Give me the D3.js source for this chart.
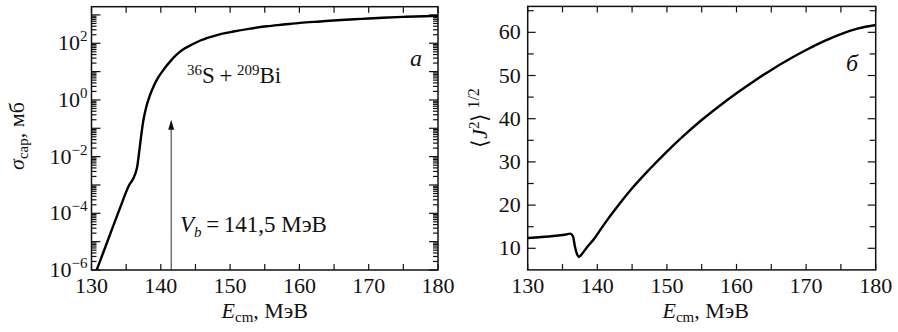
<!DOCTYPE html>
<html>
<head>
<meta charset="utf-8">
<script src="https://cdn.jsdelivr.net/npm/d3@7"></script>
</head>
<body style="margin:0;background:#fff">
<svg id="fig" width="898" height="332"></svg>
<script>
// Capture cross section σ_cap (mb) versus centre-of-mass energy, 36S + 209Bi
const energyCap = [130.75, 132, 134, 135.4, 136.3, 136.6, 136.9, 137.2, 137.5, 137.9, 138.4,
  139.0, 139.7, 140.5, 141.3, 142.2, 143.2, 144.5, 145.7, 148.1, 150.5, 152.9, 155.3,
  157.7, 160.1, 163, 166, 169, 172, 175, 178, 180];
const sigmaCap = [1e-6, 6.5e-6, 1.3e-4, 9.5e-4, 2.4e-3, 4.5e-3, 1.6e-2, 6.3e-2, 0.2, 0.56, 1.4,
  3.2, 6.6, 12.6, 22, 38, 60, 90, 125, 195, 260, 330, 398,
  457, 525, 589, 661, 724, 794, 851, 902, 923];

// Mean angular momentum <J^2>^(1/2) versus energy
const energyJ = [130, 132, 134, 135.5, 136.1, 136.5, 136.8, 137.1, 137.35, 137.7, 138.5,
  139.5, 141, 143, 145, 147.5, 150, 152.5, 155, 157.5, 160, 162.5, 165, 167.5, 170,
  172.5, 175, 177.5, 180];
const meanJ = [12.4, 12.6, 12.9, 13.2, 13.4, 12.8, 10.3, 8.6, 8.0, 8.5, 10.2,
  12.1, 15.6, 19.9, 23.9, 28.3, 32.4, 36.2, 39.7, 42.9, 45.9, 48.7, 51.3, 53.7, 55.9,
  57.9, 59.6, 60.9, 61.7];

const energyTicks = [130, 140, 150, 160, 170, 180];
const sigmaTickExp = [-6, -4, -2, 0, 2];
const jTicks = [10, 20, 30, 40, 50, 60];
const barrierEnergy = 141.5;   // V_b, MeV
const arrowTipSigma = 0.2;

const svg = d3.select("#fig");
const FS = 22, FS_SUB = 15;
const INK = "#111";
const FACE = "Liberation Serif";

// text element with the serif face set directly on it
function addText(sel) {
  return sel.append("text").attr("font-family", FACE).attr("fill", INK);
}

function energyAxisTicks(g, x, y0, y1) {
  const minor = d3.range(130, 180.01, 5);
  g.selectAll(null).data(minor).join("line")
    .attr("x1", d => x(d)).attr("x2", d => x(d))
    .attr("y1", y0).attr("y2", y0 - 6)
    .attr("stroke", INK).attr("stroke-width", 1.2);
  g.selectAll(null).data(minor).join("line")
    .attr("x1", d => x(d)).attr("x2", d => x(d))
    .attr("y1", y1).attr("y2", y1 + 6)
    .attr("stroke", INK).attr("stroke-width", 1.2);
  g.selectAll(null).data(energyTicks).join("text")
    .attr("font-family", FACE).attr("fill", INK)
    .attr("x", d => x(d)).attr("y", y0 + 23)
    .attr("text-anchor", "middle").attr("font-size", FS)
    .text(d => d);
}

function energyTitle(g, cx, y) {
  const t = addText(g).attr("x", cx).attr("y", y)
    .attr("text-anchor", "middle").attr("font-size", FS);
  t.append("tspan").attr("font-style", "italic").text("E");
  t.append("tspan").attr("font-size", FS_SUB).attr("dy", 4).text("cm");
  t.append("tspan").attr("dy", -4).text(", МэВ");
}

// ---------- Panel a: capture cross section ----------
{
  const x = d3.scaleLinear().domain([130, 180]).range([91.5, 438]);
  const y = d3.scaleLog().domain([1e-6, Math.pow(10, 3.29)]).range([270, 6.7]);
  const g = svg.append("g");
  const [x0, x1] = x.range();
  const [yb, yt] = y.range();

  const clip = g.append("clipPath").attr("id", "clipA");
  clip.append("rect").attr("x", x0).attr("y", yt).attr("width", x1 - x0).attr("height", yb - yt);

  // log ticks on both vertical sides
  const logTicks = [];
  for (let e = -6; e <= 3; e++) {
    for (let m = 1; m <= 9; m++) {
      const v = m * Math.pow(10, e);
      if (v >= y.domain()[0] && v <= y.domain()[1]) logTicks.push({ v, major: m === 1 });
    }
  }
  g.selectAll(null).data(logTicks).join("line")
    .attr("x1", x0).attr("x2", d => x0 + (d.major ? 9 : 5))
    .attr("y1", d => y(d.v)).attr("y2", d => y(d.v))
    .attr("stroke", INK).attr("stroke-width", 1.2);
  g.selectAll(null).data(logTicks).join("line")
    .attr("x1", x1).attr("x2", d => x1 - (d.major ? 9 : 5))
    .attr("y1", d => y(d.v)).attr("y2", d => y(d.v))
    .attr("stroke", INK).attr("stroke-width", 1.2);

  const lab = g.selectAll(null).data(sigmaTickExp).join("text")
    .attr("font-family", FACE).attr("fill", INK)
    .attr("x", x0 - 4).attr("y", d => y(Math.pow(10, d)) + 7)
    .attr("text-anchor", "end").attr("font-size", FS);
  lab.append("tspan").text("10");
  lab.append("tspan").attr("font-size", FS_SUB).attr("dy", -9)
    .text(d => d < 0 ? "\u2212" + (-d) : String(d));

  energyAxisTicks(g, x, yb, yt);
  energyTitle(g, (x0 + x1) / 2, 318);

  const yl = addText(g)
    .attr("transform", `translate(24,136) rotate(-90)`)
    .attr("text-anchor", "middle").attr("font-size", FS);
  yl.append("tspan").attr("font-style", "italic").text("σ");
  yl.append("tspan").attr("font-size", FS_SUB).attr("dy", 4).text("cap");
  yl.append("tspan").attr("dy", -4).text(", мб");

  // barrier arrow
  const ax = x(barrierEnergy), ay = y(arrowTipSigma);
  g.append("line").attr("x1", ax).attr("x2", ax).attr("y1", yb).attr("y2", ay + 8)
    .attr("stroke", "#444").attr("stroke-width", 1.1);
  g.append("path")
    .attr("d", `M${ax},${ay} L${ax - 3},${ay + 10} L${ax + 3},${ay + 10} Z`)
    .attr("fill", INK);

  const line = d3.line().x((d, i) => x(energyCap[i])).y(d => y(d)).curve(d3.curveMonotoneX);
  g.append("path").datum(sigmaCap).attr("clip-path", "url(#clipA)")
    .attr("d", line).attr("fill", "none").attr("stroke", "#000").attr("stroke-width", 2.4);

  g.append("rect").attr("x", x0).attr("y", yt).attr("width", x1 - x0).attr("height", yb - yt)
    .attr("fill", "none").attr("stroke", INK).attr("stroke-width", 1.5);

  const r = addText(g).attr("x", 187).attr("y", 83).attr("font-size", FS + 1);
  r.append("tspan").attr("font-size", FS_SUB).attr("dy", -8).text("36");
  r.append("tspan").attr("dy", 8).text("S\u2009+\u2009");
  r.append("tspan").attr("font-size", FS_SUB).attr("dy", -8).text("209");
  r.append("tspan").attr("dy", 8).text("Bi");

  const vb = addText(g).attr("x", 180).attr("y", 232).attr("font-size", FS + 1);
  vb.append("tspan").attr("font-style", "italic").text("V");
  vb.append("tspan").attr("font-style", "italic").attr("font-size", FS_SUB).attr("dy", 5).text("b");
  vb.append("tspan").attr("dy", -5).text("\u2009=\u2009141,5 МэВ");

  addText(g).attr("x", 410).attr("y", 66).attr("font-size", FS + 2)
    .attr("font-style", "italic").text("a");
}

// ---------- Panel б: mean angular momentum ----------
{
  const x = d3.scaleLinear().domain([130, 180]).range([527.7, 875.7]);
  const y = d3.scaleLinear().domain([5, 66]).range([269.9, 6.4]);
  const g = svg.append("g");
  const [x0, x1] = x.range();
  const [yb, yt] = y.range();

  const yt5 = d3.range(10, 65.01, 5).map(v => ({ v, major: v % 10 === 0 }));
  g.selectAll(null).data(yt5).join("line")
    .attr("x1", x0).attr("x2", d => x0 + (d.major ? 8 : 6))
    .attr("y1", d => y(d.v)).attr("y2", d => y(d.v))
    .attr("stroke", INK).attr("stroke-width", 1.2);
  g.selectAll(null).data(yt5).join("line")
    .attr("x1", x1).attr("x2", d => x1 - (d.major ? 8 : 6))
    .attr("y1", d => y(d.v)).attr("y2", d => y(d.v))
    .attr("stroke", INK).attr("stroke-width", 1.2);
  g.selectAll(null).data(jTicks).join("text")
    .attr("font-family", FACE).attr("fill", INK)
    .attr("x", x0 - 7).attr("y", d => y(d) + 7)
    .attr("text-anchor", "end").attr("font-size", FS).text(d => d);

  energyAxisTicks(g, x, yb, yt);
  energyTitle(g, (x0 + x1) / 2 + 4, 318);

  const yl = addText(g)
    .attr("transform", `translate(487,118) rotate(-90)`)
    .attr("text-anchor", "middle").attr("font-size", FS);
  yl.append("tspan").text("⟨");
  yl.append("tspan").attr("font-style", "italic").text("J");
  yl.append("tspan").attr("font-size", FS_SUB).attr("dy", -8).text("2");
  yl.append("tspan").attr("dy", 8).text("⟩");
  yl.append("tspan").attr("font-size", FS_SUB + 1).attr("dy", -8).text(" 1/2");

  const line = d3.line().x((d, i) => x(energyJ[i])).y(d => y(d)).curve(d3.curveMonotoneX);
  g.append("path").datum(meanJ)
    .attr("d", line).attr("fill", "none").attr("stroke", "#000").attr("stroke-width", 2.4);

  g.append("rect").attr("x", x0).attr("y", yt).attr("width", x1 - x0).attr("height", yb - yt)
    .attr("fill", "none").attr("stroke", INK).attr("stroke-width", 1.5);

  addText(g).attr("x", 846).attr("y", 71).attr("font-size", FS + 2)
    .attr("font-style", "italic").text("б");
}
</script>
</body>
</html>
